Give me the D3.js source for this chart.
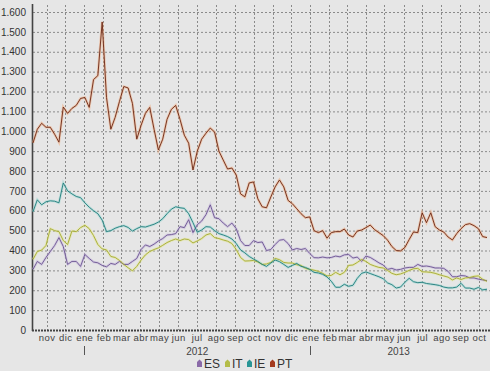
<!DOCTYPE html>
<html>
<head>
<meta charset="utf-8">
<script src="https://cdn.jsdelivr.net/npm/d3@7"></script>
<style>
  body { margin: 0; background: #e6e6e6; }
  svg { display: block; font-family: "Liberation Sans", Arial, sans-serif; }
</style>
</head>
<body>
<div id="chart"></div>
<script>
var svgWidth = 490;
var svgHeight = 371;

// weekly readings, first week starts 10 Oct 2011
var startDate = new Date(2011, 9, 10);
var monthNames = ["ene", "feb", "mar", "abr", "may", "jun", "jul", "ago", "sep", "oct", "nov", "dic"];
var yTicks = [0, 100, 200, 300, 400, 500, 600, 700, 800, 900, 1000, 1100, 1200, 1300, 1400, 1500, 1600];
var seriesNames = ["ES", "IT", "IE", "PT"];

var esValues = [305, 345, 330, 365, 395, 425, 465, 420, 330, 345, 345, 320, 380, 360, 342, 338, 325, 318, 335, 330,
  345, 330, 330, 345, 360, 405, 428, 420, 432, 448, 460, 478, 480, 485, 520, 515, 555, 490, 530, 548,
  580, 630, 565, 560, 538, 520, 538, 510, 450, 425, 425, 450, 440, 443, 400, 405, 430, 452, 455, 435,
  403, 410, 405, 410, 385, 364, 363, 367, 363, 365, 372, 368, 378, 380, 362, 367, 345, 372, 365, 352,
  338, 327, 305, 310, 302, 305, 312, 315, 315, 330, 320, 322, 318, 312, 312, 310, 295, 268, 268, 274,
  272, 262, 262, 256, 252, 248];

var itValues = [355, 395, 402, 425, 510, 500, 495, 450, 430, 498, 495, 515, 527, 510, 475, 430, 408, 403, 370, 365,
  350, 330, 313, 298, 320, 352, 378, 395, 405, 413, 426, 440, 450, 458, 450, 458, 455, 438, 448, 460,
  478, 485, 465, 460, 453, 447, 435, 405, 365, 347, 348, 350, 342, 330, 332, 340, 360, 354, 340, 337,
  337, 328, 325, 310, 305, 301, 295, 285, 272, 275, 290, 278, 290, 325, 327, 340, 355, 345, 330, 322,
  315, 312, 300, 285, 278, 282, 290, 300, 308, 310, 293, 292, 290, 285, 278, 272, 266, 252, 262, 254,
  262, 264, 270, 272, 255, 245];

var ieValues = [595, 655, 630, 645, 650, 648, 640, 740, 700, 685, 672, 666, 640, 618, 600, 585, 553, 495, 500, 512,
  520, 525, 516, 498, 510, 520, 518, 525, 532, 543, 560, 585, 608, 620, 615, 612, 585, 540, 492, 503,
  520, 518, 500, 485, 478, 470, 458, 435, 403, 388, 370, 357, 345, 330, 320, 337, 352, 344, 330, 315,
  325, 335, 320, 315, 305, 290, 287, 280, 267, 245, 215, 215, 230, 220, 225, 260, 285, 292, 284, 276,
  268, 258, 237, 228, 211, 216, 240, 260, 243, 238, 240, 234, 231, 228, 224, 216, 212, 212, 216, 235,
  211, 211, 205, 214, 202, 205];

var ptValues = [941, 1010, 1040, 1020, 1020, 985, 945, 1122, 1090, 1115, 1130, 1165, 1170, 1120, 1260, 1280, 1550, 1170, 1010, 1070,
  1150, 1225, 1218, 1140, 960, 1030, 1090, 1120, 1010, 906, 960, 1060, 1110, 1130, 1060, 980, 940, 805, 900, 960,
  990, 1016, 996, 900, 855, 810, 815, 780, 685, 670, 740, 745, 660, 620, 615, 669, 720, 755, 720, 652,
  635, 610, 585, 565, 569, 500, 490, 500, 462, 490, 495, 495, 508, 478, 468, 498, 503, 515, 528, 505,
  490, 475, 452, 420, 400, 398, 415, 455, 493, 490, 590, 540, 590, 520, 503, 493, 468, 453, 485, 510,
  530, 535, 525, 510, 470, 465];

var lineColors = ["#6a5290", "#a3a832", "#1e7a7a", "#6a2614"];
var haloColors = ["#c4b4dc", "#e4e88c", "#9ad8d2", "#f2a878"];
var legendColors = ["#8a6aa8", "#b4bc48", "#2a9696", "#a33a1e"];

var dates = esValues.map(function (d, i) { return d3.timeDay.offset(startDate, 7 * i); });
var allSeries = [esValues, itValues, ieValues, ptValues];

var svg = d3.select("#chart")
  .append("svg")
  .attr("width", svgWidth)
  .attr("height", svgHeight);

svg.append("rect")
  .attr("width", svgWidth)
  .attr("height", svgHeight)
  .attr("fill", "#e6e6e6");

var xScale = d3.scaleTime()
  .domain([startDate, dates[dates.length - 1]])
  .range([33, 487]);

var yScale = d3.scaleLinear()
  .domain([0, 1600])
  .range([330, 12]);

var months = d3.timeMonth.range(d3.timeMonth.ceil(startDate), dates[dates.length - 1]);

// grid
var grid = svg.append("g");
grid.selectAll("line.h")
  .data(yTicks.slice(1))
  .enter()
  .append("line")
  .attr("x1", 33)
  .attr("x2", 490)
  .attr("y1", d => yScale(d) + 0.5)
  .attr("y2", d => yScale(d) + 0.5)
  .attr("stroke", "#8a8a8a")
  .attr("stroke-dasharray", "2,2");

grid.selectAll("line.v")
  .data(months)
  .enter()
  .append("line")
  .attr("x1", d => Math.round(xScale(d)) + 0.5)
  .attr("x2", d => Math.round(xScale(d)) + 0.5)
  .attr("y1", 5)
  .attr("y2", 330)
  .attr("stroke", "#8a8a8a")
  .attr("stroke-dasharray", "2,2");

// y axis
var leftAxis = d3.axisLeft(yScale)
  .tickValues(yTicks)
  .tickSize(0)
  .tickPadding(6)
  .tickFormat(d => d3.format(",")(d).replace(/,/g, "."));

var yAxisG = svg.append("g")
  .attr("transform", "translate(32,0)")
  .call(leftAxis);
yAxisG.select(".domain").remove();
yAxisG.selectAll("text")
  .attr("fill", "#333")
  .attr("font-size", 10);

svg.append("line")
  .attr("x1", 32.5).attr("x2", 32.5)
  .attr("y1", 4).attr("y2", 331)
  .attr("stroke", "#444")
  .attr("stroke-width", 1.6);

// x axis (dotted baseline + month labels)
svg.append("line")
  .attr("x1", 32).attr("x2", 490)
  .attr("y1", 330.5).attr("y2", 330.5)
  .attr("stroke", "#444")
  .attr("stroke-width", 2)
  .attr("stroke-dasharray", "2,1");

var bottomAxis = d3.axisBottom(xScale)
  .tickValues(months)
  .tickSize(0)
  .tickPadding(3)
  .tickFormat(d => monthNames[d.getMonth()]);

var xAxisG = svg.append("g")
  .attr("transform", "translate(0,331)")
  .call(bottomAxis);
xAxisG.select(".domain").remove();
xAxisG.selectAll("text")
  .attr("fill", "#444")
  .attr("font-size", 9.5)
  .attr("letter-spacing", "0.4px");

// years
var years = [new Date(2012, 0, 1), new Date(2013, 0, 1)];
var yearEnds = [new Date(2013, 0, 1), dates[dates.length - 1]];
svg.selectAll("text.year")
  .data(years)
  .enter()
  .append("text")
  .attr("x", (d, i) => (xScale(d) + xScale(yearEnds[i])) / 2)
  .attr("y", 355)
  .attr("text-anchor", "middle")
  .attr("font-size", 10)
  .attr("fill", "#444")
  .text(d => d.getFullYear());

svg.selectAll("line.yearmark")
  .data(years)
  .enter()
  .append("line")
  .attr("x1", d => Math.round(xScale(d)) + 0.5)
  .attr("x2", d => Math.round(xScale(d)) + 0.5)
  .attr("y1", 346)
  .attr("y2", 355)
  .attr("stroke", "#555")
  .attr("stroke-width", 1);

// lines
var line = d3.line()
  .x((d, i) => xScale(dates[i]))
  .y(d => yScale(d));

var plot = svg.append("g");
allSeries.forEach(function (values, k) {
  plot.append("path")
    .attr("d", line(values))
    .attr("fill", "none")
    .attr("stroke", haloColors[k])
    .attr("stroke-opacity", 0.5)
    .attr("stroke-width", 2.6);
});
allSeries.forEach(function (values, k) {
  plot.append("path")
    .attr("d", line(values))
    .attr("fill", "none")
    .attr("stroke", lineColors[k])
    .attr("stroke-width", 0.9)
    .attr("stroke-linejoin", "round");
});

// legend
var legendX = [197, 225, 247, 270];
var legend = svg.append("g");
seriesNames.forEach(function (name, k) {
  var x = legendX[k];
  legend.append("path")
    .attr("d", `M${x},${362} L${x + 2.5},${359.5} L${x + 5},${362} L${x + 5},${367} L${x},${367} Z`)
    .attr("fill", legendColors[k]);
  legend.append("text")
    .attr("x", x + 7)
    .attr("y", 368)
    .attr("font-size", 12)
    .attr("fill", "#333")
    .text(name);
});
</script>
</body>
</html>
